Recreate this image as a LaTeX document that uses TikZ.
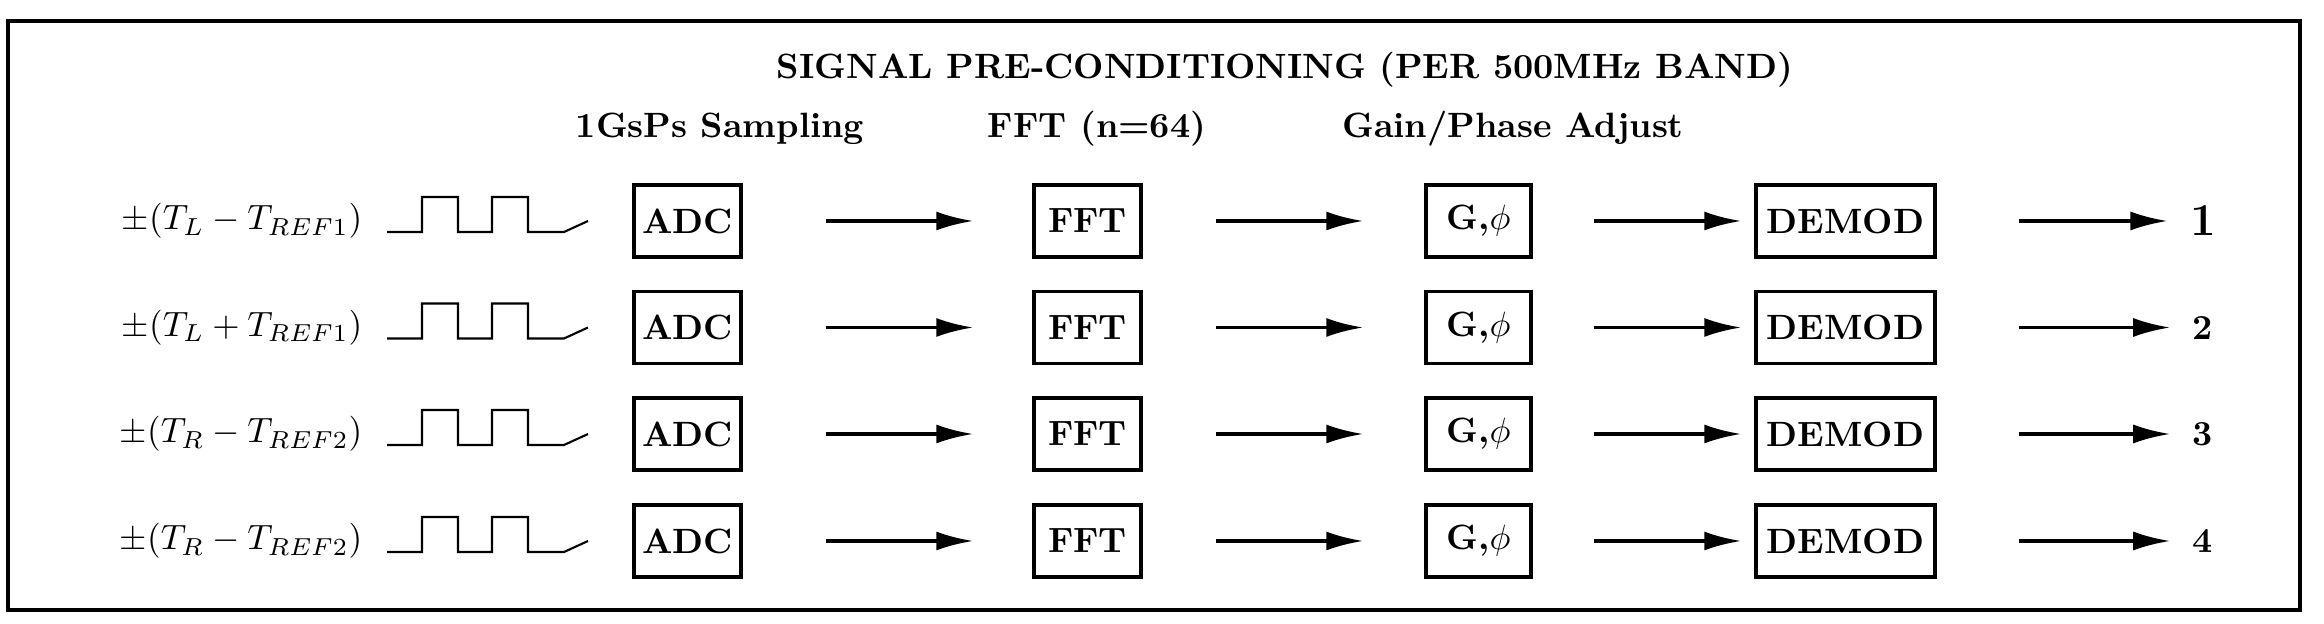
\documentclass[tikz,border=0pt]{standalone}
\usepackage{amsmath,amssymb}
\usepackage{tikz}
\usetikzlibrary{positioning}
\usetikzlibrary{arrows.meta}

\begin{document}
\begin{tikzpicture}[
			blockbox/.style={draw=black, line width=1pt, minimum width=1.07cm, minimum height=0.72cm, inner sep=1pt, font=\bfseries},
			flowarrow/.style={-{Latex[length=3.7mm,width=1.9mm]}, line width=0.95pt},
			wave/.style={line width=0.6pt},
			headline/.style={font=\bfseries}
			]
			\useasboundingbox (0,0) rectangle (23.24,6.24);
			\draw[line width=1pt] (0.08,0.14) rectangle (23.00,6.03);
			
			\node[headline] at (12.85, 5.54) (title) {SIGNAL PRE-CONDITIONING (PER 500MHz BAND)};
			\node[headline] at (7.20, 4.95) (hsamp) {1GsPs Sampling};
			\node[headline] at (10.97, 4.95) (hfft) {FFT (n=64)};
			\node[headline] at (15.13, 4.95) (hgain) {Gain/Phase Adjust};
			
			% inputs
			\node[anchor=east, inner sep=0pt] at (3.63, 4.03) (in1) {$\pm(T_L - T_{REF1})$};
			\node[anchor=east, inner sep=0pt] at (3.63, 2.965) (in2) {$\pm(T_L + T_{REF1})$};
			\node[anchor=east, inner sep=0pt] at (3.63, 1.90) (in3) {$\pm(T_R - T_{REF2})$};
			\node[anchor=east, inner sep=0pt] at (3.63, 0.83) (in4) {$\pm(T_R - T_{REF2})$};
			
			\draw[wave] (3.87, 3.92) -- ++(0.35,0) -- ++(0,0.35) -- ++(0.36,0) -- ++(0,-0.35) -- ++(0.34,0) -- ++(0,0.35) -- ++(0.36,0) -- ++(0,-0.35) -- ++(0.36,0) -- ++(0.24,0.11);
			\draw[wave] (3.87, 2.855) -- ++(0.35,0) -- ++(0,0.35) -- ++(0.36,0) -- ++(0,-0.35) -- ++(0.34,0) -- ++(0,0.35) -- ++(0.36,0) -- ++(0,-0.35) -- ++(0.36,0) -- ++(0.24,0.11);
			\draw[wave] (3.87, 1.79) -- ++(0.35,0) -- ++(0,0.35) -- ++(0.36,0) -- ++(0,-0.35) -- ++(0.34,0) -- ++(0,0.35) -- ++(0.36,0) -- ++(0,-0.35) -- ++(0.36,0) -- ++(0.24,0.11);
			\draw[wave] (3.87, 0.72) -- ++(0.35,0) -- ++(0,0.35) -- ++(0.36,0) -- ++(0,-0.35) -- ++(0.34,0) -- ++(0,0.35) -- ++(0.36,0) -- ++(0,-0.35) -- ++(0.36,0) -- ++(0.24,0.11);
			
			% blocks
			\node[blockbox] at (6.875, 4.03) (adc1) {ADC};
			\node[blockbox] at (10.875, 4.03) (fft1) {FFT};
			\node[blockbox, minimum width=1.05cm] at (14.785, 4.03) (gp1) {G,$\phi$\hspace{0.6em}};
			\node[blockbox, minimum width=1.79cm] at (18.455, 4.03) (demod1) {DEMOD};
			\node[inner sep=0pt, font=\fontsize{13}{15}\selectfont\bfseries] at (22.03, 4.03) (out1) {1};
			
			\node[blockbox] at (6.875, 2.965) (adc2) {ADC};
			\node[blockbox] at (10.875, 2.965) (fft2) {FFT};
			\node[blockbox, minimum width=1.05cm] at (14.785, 2.965) (gp2) {G,$\phi$\hspace{0.6em}};
			\node[blockbox, minimum width=1.79cm] at (18.455, 2.965) (demod2) {DEMOD};
			\node[inner sep=0pt, font=\bfseries] at (22.03, 2.965) (out2) {2};
			
			\node[blockbox] at (6.875, 1.90) (adc3) {ADC};
			\node[blockbox] at (10.875, 1.90) (fft3) {FFT};
			\node[blockbox, minimum width=1.05cm] at (14.785, 1.90) (gp3) {G,$\phi$\hspace{0.6em}};
			\node[blockbox, minimum width=1.79cm] at (18.455, 1.90) (demod3) {DEMOD};
			\node[inner sep=0pt, font=\bfseries] at (22.03, 1.90) (out3) {3};
			
			\node[blockbox] at (6.875, 0.83) (adc4) {ADC};
			\node[blockbox] at (10.875, 0.83) (fft4) {FFT};
			\node[blockbox, minimum width=1.05cm] at (14.785, 0.83) (gp4) {G,$\phi$\hspace{0.6em}};
			\node[blockbox, minimum width=1.79cm] at (18.455, 0.83) (demod4) {DEMOD};
			\node[inner sep=0pt, font=\bfseries] at (22.03, 0.83) (out4) {4};
			
			% arrows
			\draw[flowarrow, shorten <=0.83cm, shorten >=0.59cm] (adc1.east) -- (fft1.west);
			\draw[flowarrow, shorten <=0.73cm, shorten >=0.61cm] (fft1.east) -- (gp1.west);
			\draw[flowarrow, shorten <=0.61cm, shorten >=0.13cm] (gp1.east) -- (demod1.west);
			\draw[flowarrow, shorten <=0.82cm, shorten >=0.22cm] (demod1.east) -- (out1.west);
			
			\draw[flowarrow, shorten <=0.83cm, shorten >=0.59cm] (adc2.east) -- (fft2.west);
			\draw[flowarrow, shorten <=0.73cm, shorten >=0.61cm] (fft2.east) -- (gp2.west);
			\draw[flowarrow, shorten <=0.61cm, shorten >=0.13cm] (gp2.east) -- (demod2.west);
			\draw[flowarrow, shorten <=0.82cm, shorten >=0.22cm] (demod2.east) -- (out2.west);
			
			\draw[flowarrow, shorten <=0.83cm, shorten >=0.59cm] (adc3.east) -- (fft3.west);
			\draw[flowarrow, shorten <=0.73cm, shorten >=0.61cm] (fft3.east) -- (gp3.west);
			\draw[flowarrow, shorten <=0.61cm, shorten >=0.13cm] (gp3.east) -- (demod3.west);
			\draw[flowarrow, shorten <=0.82cm, shorten >=0.22cm] (demod3.east) -- (out3.west);
			
			\draw[flowarrow, shorten <=0.83cm, shorten >=0.59cm] (adc4.east) -- (fft4.west);
			\draw[flowarrow, shorten <=0.73cm, shorten >=0.61cm] (fft4.east) -- (gp4.west);
			\draw[flowarrow, shorten <=0.61cm, shorten >=0.13cm] (gp4.east) -- (demod4.west);
			\draw[flowarrow, shorten <=0.82cm, shorten >=0.22cm] (demod4.east) -- (out4.west);
		\end{tikzpicture}
\end{document}
